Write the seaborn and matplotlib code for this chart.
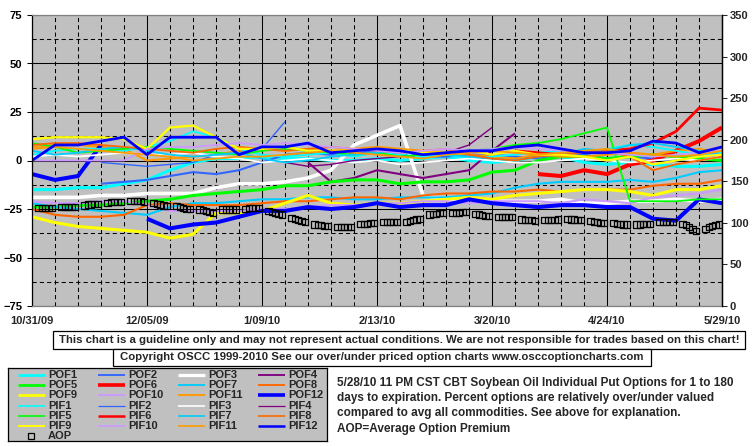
import numpy as np
import pandas as pd
import matplotlib
matplotlib.use("Agg")
import matplotlib.pyplot as plt
from matplotlib.patches import Rectangle
import seaborn as sns

nan = np.nan

# weekly readings 10/31/09 .. 5/29/10, percent over/under valued (left axis)
dates = pd.date_range("2009-10-31", periods=31, freq="7D")
xtick_dates = pd.date_range("2009-10-31", "2010-05-29", freq="35D")
xtick_labels = ["10/31/09", "12/05/09", "1/09/10", "2/13/10", "3/20/10", "4/24/10", "5/29/10"]

pof1 = [-15, -15, -14, -14, -12, -10, -5, -1, 1, 1, 2, 1, 1, 0, 0, 1, 0, 1, 2, 0, -1, 0, 2, 2, -1, -2, -1, -2, -3, -3, -2]
pof2 = [nan, nan, nan, -12, -11, -10, -8, -6, -7, -5, -1, 3, 4, 3, 4, 5, 3, 2, 2, 3, 3, 2, 1, 2, 3, 1, 2, 1, 0, 2, 3]
pof3 = [-19, -19, -19, -18, -18, -17, -17, -17, -14, -12, -12, -11, -9, -5, 8, 13, 18, -18, -20, -20, -21, -21, -21, -20, -22, -22, -21, -21, -20, -21, -20]
pof4 = [nan] * 12 + [-1, -11, -9, -5, -7, -9, -7, -5, 5, 14] + [nan] * 9
pof5 = [-24, -24, -23, -23, -22, -21, -20, -18, -17, -16, -15, -13, -13, -11, -10, -10, -12, -11, -11, -10, -6, -5, 0, 2, 2, 1, 2, 3, 2, 1, 0]
pof6 = [nan] * 22 + [-7, -8, -5, -7, -2, 0, 5, 10, 17]
pof7 = [-22, -24, -25, -26, -27, -28, -24, -22, -22, -21, -20, -20, -19, -19, -20, -20, -19, -19, -19, -18, -17, -14, -12, -11, -11, -11, -10, -11, -9, -6, -5]
pof8 = [-25, -28, -29, -29, -28, -23, -22, -23, -23, -23, -22, -21, -21, -20, -19, -19, -20, -18, -17, -17, -16, -16, -15, -16, -15, -15, -15, -13, -12, -12, -10]
pof9 = [-29, -32, -34, -35, -36, -37, -40, -38, -27, -27, -26, -22, -18, -22, -23, -22, -22, -21, -20, -19, -20, -18, -17, -16, -15, -15, -16, -18, -15, -15, -13]
pof10 = [-21, -22, -22, -21, -21, -23, -26, -26, -26, -26, -25, -25, -24, -23, -23, -22, -22, -21, -21, -22, -21, -21, -21, -22, -20, -21, -22, -19, -18, -17, -15]
pof11 = [7, 8, 8, 7, 6, 0, 1, 2, 3, 5, 6, 5, 6, 5, 6, 7, 6, 5, 4, 3, 2, 1, 3, 2, 2, 3, 4, 3, 5, 6, 4]
pof12 = [-7, -10, -8, 8, nan, -30, -35, -33, -32, -29, -26, -26, -24, -25, -24, -22, -24, -23, -23, -20, -22, -23, -24, -23, -23, -24, -24, -30, -31, -20, -22]
pif1 = [3, 5, 6, 6, 5, 7, 10, 15, 12, 6, 3, 2, 3, 4, 2, 4, 3, 2, 3, 1, 2, 3, 4, 5, 4, 6, 8, 7, 5, 3, 4]
pif2 = [nan, nan, nan, -1, -2, -3, -2, -1, 3, 4, 6, 20] + [nan] * 19
pif3 = [2, 3, 2, 3, 4, 3, 3, 4, 2, 1, -1, 0, 1, 0, -1, 0, -2, -1, 0, 1, 0, -1, -1, 0, 1, 0, -1, 0, 1, 0, 2]
pif4 = [nan] * 11 + [-1, -3, -2, 0, 1, 2, 3, 4, 8, 17] + [nan] * 10
pif5 = [9, 7, 4, 5, 6, 7, 6, 5, 4, 3, 5, 6, 5, 4, 3, 4, 2, 3, 4, 5, 6, 8, 9, 11, 14, 17, -21, -21, -21, -20, -20]
pif6 = [nan] * 21 + [5, 4, 3, 5, 5, 6, 9, 15, 27, 26]
pif7 = [5, 3, 4, 6, 7, 5, 3, 2, 3, 4, 1, -1, 0, 2, 3, 4, 5, 4, 3, 2, 1, 0, 2, 3, 6, 5, 8, 9, 7, 5, 3]
pif8 = [8, 9, 9, 8, 7, 6, 5, 4, 6, 7, 6, 5, 6, 7, 6, 5, 4, 5, 6, 3, 1, 0, 2, 3, 4, 5, 2, -5, -2, 0, 2]
pif9 = [11, 12, 12, 12, 11, 6, 17, 18, 12, 6, 6, 7, 5, 5, 5, 6, 5, 4, 4, 5, 3, 5, 3, 3, 2, 0, 2, -2, 0, 2, 3]
pif10 = [0, 0, 0, 0, 0, 6, 7, 7, 8, 9, 8, 9, 8, 7, 6, 5, 4, 5, 6, 5, 6, 7, 6, 5, 4, 4, 3, 2, 3, 4, 5]
pif11 = [6, 7, 6, 5, 4, 3, 2, 0, 1, 2, 2, 3, 4, 5, 4, 3, 2, 1, 3, 4, 5, 4, 3, 4, 5, 6, 4, 3, 2, 3, 5]
pif12 = [0, 8, 8, 10, 12, 3, 12, 12, 12, 3, 7, 7, 9, 4, 5, 6, 5, 3, 4, 5, 5, 7, 8, 6, 4, 4, 5, 10, 9, 4, 7]

# average option premium, one row per trading week (right axis)
aop_days = pd.bdate_range("2009-11-02", "2010-05-28")
aop_weeks = [
    [118, 118, 118, 118, 118], [119, 119, 119, 119, 119], [121, 122, 122, 123, 123],
    [124, 125, 125, 125, 125], [126, 126, 126, 126, 125], [124, 123, 122, 121, 120],
    [120, 119, 118, 117, 117], [116, 115, 114, 113, 112], [116, 116, 116, 116, 116],
    [117, 118, 118, 118, 118], [114, 113, 112, 111, 110], [106, 105, 103, 102, 101],
    [98, 97, 97, 96, 96], [95, 95, 95, 95, 95], [99, 99, 99, 100, 100],
    [101, 101, 101, 101, 101], [101, 102, 103, 104, 105], [110, 111, 111, 112, 112],
    [112, 112, 112, 113, 113], [111, 110, 109, 108, 108], [107, 107, 107, 107, 107],
    [104, 103, 103, 103, 102], [103, 103, 103, 103, 104], [105, 104, 104, 103, 103],
    [102, 101, 101, 100, 100], [100, 99, 99, 98, 98], [98, 98, 99, 99, 99],
    [101, 101, 101, 101, 101], [99, 97, 95, 93, 90], [93, 95, 96, 97, 98],
]
aop = [v for week in aop_weeks for v in week]

names = ["POF1", "POF2", "POF3", "POF4", "POF5", "POF6", "POF7", "POF8", "POF9", "POF10", "POF11", "POF12",
         "PIF1", "PIF2", "PIF3", "PIF4", "PIF5", "PIF6", "PIF7", "PIF8", "PIF9", "PIF10", "PIF11", "PIF12"]
values = [pof1, pof2, pof3, pof4, pof5, pof6, pof7, pof8, pof9, pof10, pof11, pof12,
          pif1, pif2, pif3, pif4, pif5, pif6, pif7, pif8, pif9, pif10, pif11, pif12]

palette = ["#00FFFF", "#3366FF", "#FFFFFF", "#800080", "#00FF00", "#FF0000",
           "#00CCFF", "#FF6600", "#FFFF00", "#CC99FF", "#FF9900", "#0000FF"]
colors = palette + palette
widths = [2.2, 1.5, 2.6, 1.5, 2.2, 2.9, 1.5, 1.5, 2.2, 1.5, 1.5, 2.9,
          1.3, 1.0, 1.3, 1.0, 1.3, 2.0, 1.3, 1.3, 1.6, 1.3, 1.3, 2.0]

sns.set_style("ticks")
plt.rcParams["font.family"] = ["Liberation Sans", "DejaVu Sans"]
plt.rcParams["font.weight"] = "bold"

W, H = 755, 446
fig = plt.figure(figsize=(W / 100, H / 100), dpi=100)
fig.patch.set_facecolor("white")

ax = fig.add_axes([32 / W, 1 - 306 / H, 690 / W, 291 / H])
ax.set_facecolor("#C0C0C0")
ax.set_axisbelow(True)

# gridlines: solid every 25 / 5 weeks, dashed in between
ax.set_ylim(-75, 75)
ax.set_yticks(np.arange(-75, 76, 25))
ax.set_yticks(np.arange(-62.5, 75, 25), minor=True)
ax.set_xlim(dates[0], dates[-1])
ax.set_xticks(xtick_dates)
ax.set_xticklabels(xtick_labels)
ax.set_xticks(dates, minor=True)
ax.grid(which="major", color="black", lw=0.75, ls="-")
ax.grid(which="minor", color="black", lw=0.75, ls=(0, (4, 3)))
ax.tick_params(axis="y", which="major", direction="out", length=3.6, width=0.75,
               labelsize=8, pad=3.5, colors="black")
ax.tick_params(axis="x", which="major", length=0, labelsize=8, pad=7.5)
ax.tick_params(which="minor", length=0)
for lbl in ax.get_xticklabels() + ax.get_yticklabels():
    lbl.set_fontweight("bold")
for side in ["top", "bottom"]:
    ax.spines[side].set_color("#808080")
for side in ["left", "right"]:
    ax.spines[side].set_color("black")
for sp in ax.spines.values():
    sp.set_linewidth(0.9)


def draw(values, color, lw):
    s = pd.Series(values, index=dates, dtype=float)
    ok = s.notna()
    seg = (~ok).cumsum()
    for _, part in s[ok].groupby(seg[ok]):
        if len(part) > 1:
            sns.lineplot(x=part.index, y=part.values, ax=ax, color=color, lw=lw,
                         legend=False, solid_capstyle="butt")


for vals, c, lw in zip(values, colors, widths):
    draw(vals, c, lw)
ax.set_xlabel("")
ax.set_ylabel("")

ax2 = ax.twinx()
ax2.set_ylim(0, 350)
sns.scatterplot(x=aop_days, y=aop, ax=ax2, marker="s", s=20,
                facecolor="none", edgecolor="black", linewidth=0.9, legend=False)
ax2.set_yticks(np.arange(0, 351, 50))
ax2.tick_params(axis="y", direction="out", length=3.6, width=0.75, labelsize=8, pad=2)
for lbl in ax2.get_yticklabels():
    lbl.set_fontweight("bold")
for side in ["top", "bottom", "left"]:
    ax2.spines[side].set_visible(False)
ax2.spines["right"].set_color("black")
ax2.spines["right"].set_linewidth(0.9)
ax2.set_xlim(dates[0], dates[-1])
ax2.set_ylabel("")

# disclaimer boxes
def box(x0, y0, x1, y1, text):
    fig.patches.append(Rectangle((x0 / W, 1 - y1 / H), (x1 - x0) / W, (y1 - y0) / H,
                                 transform=fig.transFigure, fc="white", ec="black", lw=0.9))
    fig.text((x0 + x1) / 2 / W, 1 - (y0 + y1) / 2 / H, text, ha="center", va="center",
             fontsize=8.2, fontweight="bold")


box(53, 331, 745, 349, "This chart is a guideline only and may not represent actual conditions. "
    "We are not responsible for trades based on this chart!")
box(113, 349, 651, 366, "Copyright OSCC 1999-2010 See our over/under priced option charts "
    "www.osccoptioncharts.com")

# legend panel
lax = fig.add_axes([8 / W, 1 - 441 / H, 319 / W, 73 / H])
lax.set_xlim(0, 319)
lax.set_ylim(73, 0)
lax.set_facecolor("#C0C0C0")
lax.set_xticks([])
lax.set_yticks([])
for sp in lax.spines.values():
    sp.set_color("black")
    sp.set_linewidth(0.9)
for i, name in enumerate(names + ["AOP"]):
    row, col = divmod(i, 4)
    x0 = 10 + 80 * col
    y = 7 + 10.2 * row
    if name == "AOP":
        lax.plot([x0 + 13], [y], marker="s", ms=4.5, mfc="none", mec="black", mew=0.9)
    else:
        lax.plot([x0, x0 + 27], [y, y], color=colors[i], lw=widths[i] * 0.9, solid_capstyle="butt")
    lax.text(x0 + 30, y, name, ha="left", va="center", fontsize=8, fontweight="bold")

desc = ["5/28/10 11 PM CST CBT Soybean Oil Individual Put Options for 1 to 180",
        "days to expiration. Percent options are relatively over/under valued",
        "compared to avg all commodities. See above for explanation.",
        "AOP=Average Option Premium"]
for k, line in enumerate(desc):
    fig.text(337 / W, 1 - (383 + 15.2 * k) / H, line, ha="left", va="center",
             fontsize=8.5, fontweight="bold")

fig.savefig("out.png", dpi=100)
